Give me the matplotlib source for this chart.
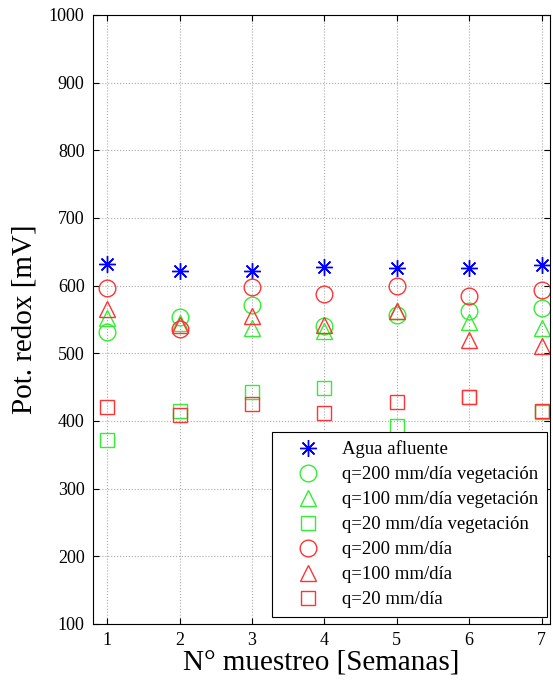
import numpy as np
import matplotlib.pyplot as plt

plt.rcParams['font.family'] = ['Liberation Serif', 'DejaVu Serif']

semanas = [1, 2, 3, 4, 5, 6, 7]
agua_afluente = [632, 622, 622, 627, 626, 626, 630]
q200_veg = [532, 554, 571, 540, 556, 563, 567]
q100_veg = [552, 544, 538, 533, 563, 546, 537]
q20_veg = [371, 415, 442, 448, 393, 436, 413]
q200 = [597, 536, 598, 587, 600, 584, 594]
q100 = [565, 541, 555, 542, 563, 519, 511]
q20 = [420, 409, 425, 412, 428, 436, 414]

verde = '#33ee33'
rojo = '#ff3333'
series = [
    (agua_afluente, (8, 2, 0), 'blue', 12, 'Agua afluente'),
    (q200_veg, 'o', verde, 12, 'q=200 mm/día vegetación'),
    (q100_veg, '^', verde, 12, 'q=100 mm/día vegetación'),
    (q20_veg, 's', verde, 9.5, 'q=20 mm/día vegetación'),
    (q200, 'o', rojo, 12, 'q=200 mm/día'),
    (q100, '^', rojo, 12, 'q=100 mm/día'),
    (q20, 's', rojo, 9.5, 'q=20 mm/día'),
]

fig = plt.figure(figsize=(5.53, 6.81), dpi=100)
ax = fig.add_axes([0.168, 0.084, 0.827, 0.894])

for vals, mk, col, ms, lab in series:
    ax.plot(semanas, vals, linestyle='none', marker=mk, markersize=ms,
            markerfacecolor='none', markeredgecolor=col, markeredgewidth=1.0,
            color=col, label=lab)

ax.set_xlim(0.8, 7.12)
ax.set_ylim(100, 1000)
ax.set_xticks(semanas)
ax.set_yticks(np.arange(100, 1001, 100))
ax.tick_params(direction='in', top=True, right=True, labelsize=13, length=4, pad=6)
ax.grid(True, linestyle=':', color='#aaaaaa', linewidth=0.8)
ax.set_xlabel('N° muestreo [Semanas]', fontsize=21, labelpad=0)
ax.set_ylabel('Pot. redox [mV]', fontsize=21, labelpad=8)

leg = ax.legend(loc='lower right', bbox_to_anchor=(0.993, 0.0115),
                fontsize=13.5, frameon=True, fancybox=False,
                edgecolor='black', framealpha=1, borderaxespad=0,
                handletextpad=0.35, borderpad=0.45, labelspacing=0.42,
                handlelength=2.95, numpoints=1)
leg.get_frame().set_linewidth(0.8)

fig.savefig('out.png', dpi=100)
